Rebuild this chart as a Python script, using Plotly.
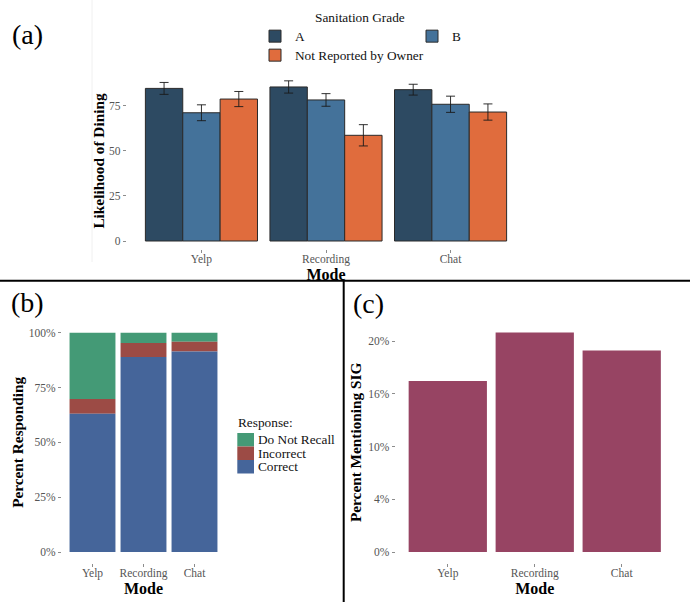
import plotly.graph_objects as go

W, H = 690, 602
FONT = "Liberation Serif"

# ---------------- data ----------------
modes = ["Yelp", "Recording", "Chat"]

grades = ["A", "B", "Not Reported by Owner"]
likelihood_A = [84.6, 85.4, 83.9]
likelihood_B = [71.1, 78.2, 75.8]
likelihood_NR = [78.7, 58.6, 71.5]
err_A = [3.3, 3.4, 3.0]
err_B = [4.4, 3.5, 4.5]
err_NR = [4.2, 5.9, 4.5]
grade_colors = ["#2d4a62", "#44729a", "#e06c3d"]
a_tickvals = [0, 25, 50, 75]

responses = ["Do Not Recall", "Incorrect", "Correct"]
pct_dnr = [30.2, 4.7, 4.1]
pct_incorrect = [6.8, 6.4, 4.5]
pct_correct = [63.0, 88.9, 91.4]
response_colors = ["#449a76", "#9c4b45", "#45659a"]
b_tickvals = [0, 25, 50, 75, 100]
b_ticktext = ["0%", "25%", "50%", "75%", "100%"]

pct_sig = [16.2, 20.8, 19.1]
sig_color = "#974463"
c_tickvals = [0, 5, 10, 15, 20]
c_ticktext = ["0%", "4%", "10%", "16%", "20%"]


def fx(px):
    return px / W


def fy(py):
    return 1 - py / H


tickfont = dict(family=FONT, size=11.5, color="#555555")
titlefont = dict(family=FONT, size=16, color="#000000")
ytitlefont = dict(family=FONT, size=15.3, color="#000000")
legfont = dict(family=FONT, size=13.3, color="#111111")

fig = go.Figure()

# ---------------- panel (a) ----------------
a_vals = [likelihood_A, likelihood_B, likelihood_NR]
a_errs = [err_A, err_B, err_NR]
a_legends = ["legend", "legend", "legend2"]
for g, v, e, c, lg in zip(grades, a_vals, a_errs, grade_colors, a_legends):
    fig.add_trace(go.Bar(
        x=modes, y=v, name=g, legend=lg,
        marker=dict(color=c, line=dict(color="#2a2a2a", width=1)),
        error_y=dict(type="data", array=e, color="#1a1a1a", thickness=0.9, width=4.5),
        xaxis="x", yaxis="y",
    ))

# ---------------- panel (b) ----------------
base_correct = [0, 0, 0]
base_incorrect = pct_correct
base_dnr = [c + i for c, i in zip(pct_correct, pct_incorrect)]
b_vals = [pct_dnr, pct_incorrect, pct_correct]
b_bases = [base_dnr, base_incorrect, base_correct]
for r, v, b, c in zip(responses, b_vals, b_bases, response_colors):
    fig.add_trace(go.Bar(
        x=modes, y=v, base=b, name=r, offsetgroup="resp", showlegend=False,
        marker=dict(color=c, line=dict(width=0)),
        xaxis="x2", yaxis="y2",
    ))

# ---------------- panel (c) ----------------
fig.add_trace(go.Bar(
    x=modes, y=pct_sig, name="SIG", showlegend=False,
    marker=dict(color=sig_color, line=dict(width=0)),
    xaxis="x3", yaxis="y3",
))

common_x = dict(type="category", range=[-0.6, 2.6], showgrid=False, zeroline=False,
                showline=False, ticks="outside", ticklen=3, tickwidth=0.8,
                tickcolor="#8c8c8c", tickfont=tickfont, automargin=False,
                ticklabelstandoff=-4)
common_y = dict(showgrid=False, zeroline=False, showline=False, ticks="outside",
                ticklen=3, tickwidth=0.8, tickcolor="#8c8c8c", tickfont=tickfont,
                automargin=False)

fig.update_layout(
    width=W, height=H,
    margin=dict(l=0, r=0, t=0, b=0),
    template="none",
    paper_bgcolor="white", plot_bgcolor="white",
    barmode="group", bargap=0.1, bargroupgap=0,
    font=dict(family=FONT, color="#000000"),
    xaxis=dict(common_x, domain=[fx(126.7), fx(525.3)], anchor="y",
               title=dict(text="<b>Mode</b>", font=titlefont, standoff=0)),
    yaxis=dict(common_y, domain=[fy(249), fy(73)], anchor="x", range=[-4.435, 93.14],
               tickvals=a_tickvals,
               title=dict(text="<b>Likelihood of Dining</b>", font=ytitlefont, standoff=0)),
    xaxis2=dict(common_x, domain=[fx(61.9), fx(225.1)], anchor="y2",
                title=dict(text="<b>Mode</b>", font=titlefont, standoff=0)),
    yaxis2=dict(common_y, domain=[fy(563), fy(321.7)], anchor="x2", range=[-5, 105],
                tickvals=b_tickvals, ticktext=b_ticktext,
                title=dict(text="<b>Percent Responding</b>", font=ytitlefont, standoff=1)),
    xaxis3=dict(common_x, domain=[fx(395.6), fx(673.9)], anchor="y3",
                title=dict(text="<b>Mode</b>", font=titlefont, standoff=0)),
    yaxis3=dict(common_y, domain=[fy(563), fy(321.6)], anchor="x3", range=[-1.04, 21.84],
                tickvals=c_tickvals, ticktext=c_ticktext,
                title=dict(text="<b>Percent Mentioning SIG</b>", font=ytitlefont, standoff=2)),
    legend=dict(orientation="h", x=fx(255), xanchor="left", y=fy(21), yanchor="top",
                entrywidth=112, entrywidthmode="pixels", bgcolor="rgba(0,0,0,0)",
                font=legfont),
    legend2=dict(orientation="h", x=fx(255), xanchor="left", y=fy(40), yanchor="top",
                 bgcolor="rgba(0,0,0,0)", font=legfont),
)

# separators
shapes = [
    dict(type="line", xref="paper", yref="paper", x0=0, x1=1, y0=fy(280.7), y1=fy(280.7),
         line=dict(color="black", width=2)),
    dict(type="line", xref="paper", yref="paper", x0=fx(343.7), x1=fx(343.7), y0=fy(280.7), y1=0,
         line=dict(color="black", width=2)),
    dict(type="line", xref="paper", yref="paper", x0=fx(92), x1=fx(92), y0=fy(262), y1=1,
         line=dict(color="#f0f0f0", width=1)),
]

annotations = []
for lbl, (px, py) in zip(["(a)", "(b)", "(c)"], [(27, 34), (27, 302), (368, 303)]):
    annotations.append(dict(text=lbl, xref="paper", yref="paper", x=fx(px), y=fy(py),
                            xanchor="center", yanchor="middle", showarrow=False,
                            font=dict(family=FONT, size=28, color="#000000")))

# legend title for panel (a)
annotations.append(dict(text="Sanitation Grade", xref="paper", yref="paper", x=fx(360), y=fy(17),
                        xanchor="center", yanchor="middle", showarrow=False, font=legfont))

# manual legend for panel (b)
annotations.append(dict(text="Response:", xref="paper", yref="paper", x=fx(236), y=fy(422),
                        xanchor="left", yanchor="middle", showarrow=False, font=legfont))
for i, (r, c) in enumerate(zip(responses, response_colors)):
    top = 433 + 13.5 * i
    shapes.append(dict(type="rect", xref="paper", yref="paper", x0=fx(237.3), x1=fx(254),
                       y0=fy(top + 13.5), y1=fy(top), fillcolor=c, line=dict(width=0)))
    annotations.append(dict(text=r, xref="paper", yref="paper", x=fx(256.5), y=fy(top + 6.9),
                            xanchor="left", yanchor="middle", showarrow=False, borderpad=0,
                            font=legfont))

fig.update_layout(shapes=shapes, annotations=annotations)

fig.write_html("out.html")
